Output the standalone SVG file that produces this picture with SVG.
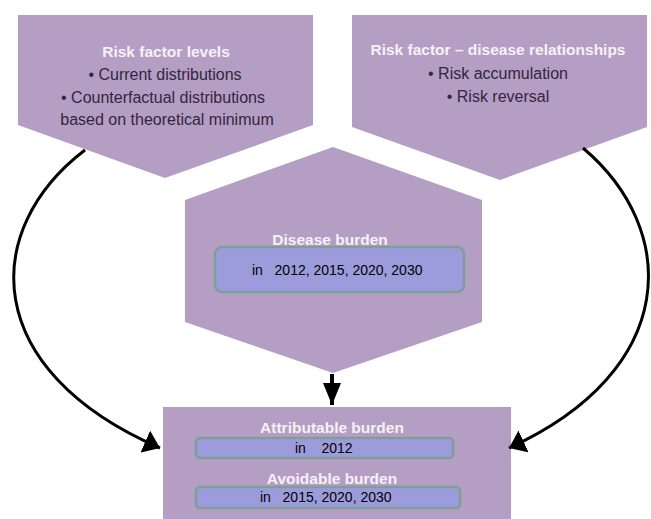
<svg xmlns="http://www.w3.org/2000/svg" width="651" height="519" viewBox="0 0 651 519">
<style>
.shape{fill:#b49ec3;}
.title{font-family:"Liberation Sans",Arial,sans-serif;font-size:15.5px;font-weight:bold;fill:#f6f1f8;text-anchor:middle;}
.bul{font-family:"Liberation Sans",Arial,sans-serif;font-size:16px;fill:#33263f;text-anchor:middle;}
.box{fill:#9c9cdc;stroke:#7f9e9a;stroke-width:2.5;}
.yr{font-family:"Liberation Sans",Arial,sans-serif;font-size:14px;fill:#000;white-space:pre;}
.conn{fill:none;stroke:#000;stroke-width:3;}
</style>
<defs>
<marker id="ah" markerUnits="userSpaceOnUse" markerWidth="24" markerHeight="18" refX="22" refY="9" orient="auto">
<path d="M0,0 L22,9 L0,18 Z" fill="#000"/>
</marker>
<marker id="ahd" markerUnits="userSpaceOnUse" markerWidth="24" markerHeight="24" refX="16" refY="12" orient="auto">
<path d="M0,0 L16,12 L0,24 Z" fill="#000"/>
</marker>
</defs>
<rect width="651" height="519" fill="#fff"/>
<g id="risk-levels">
<polygon class="shape" points="18,15 313,15 313,125 165,178 18,125"/>
<text class="title" x="166" y="57">Risk factor levels</text>
<text class="bul" x="165" y="80">• Current distributions</text>
<text class="bul" x="163" y="103">• Counterfactual distributions</text>
<text class="bul" x="167" y="125">based on theoretical minimum</text>
</g>
<g id="risk-relationships">
<polygon class="shape" points="352,15 647,15 647,127 500,180 352,127"/>
<text class="title" x="498" y="55">Risk factor – disease relationships</text>
<text class="bul" x="498" y="79">• Risk accumulation</text>
<text class="bul" x="498" y="102">• Risk reversal</text>
</g>
<g id="disease-burden">
<polygon class="shape" points="333,147 482,200 482,322 333,373 185,322 185,200"/>
<text class="title" x="330" y="245">Disease burden</text>
<rect class="box" x="215" y="247" width="249" height="45" rx="7"/>
<text class="yr" x="252" y="275">in   2012, 2015, 2020, 2030</text>
</g>
<g id="burden-outcomes">
<rect class="shape" x="163" y="407" width="348" height="115"/>
<text class="title" x="332" y="433">Attributable burden</text>
<rect class="box" x="196" y="438" width="257" height="20" rx="4"/>
<text class="yr" x="295" y="453">in    2012</text>
<text class="title" x="332" y="484">Avoidable burden</text>
<rect class="box" x="196" y="487" width="264" height="21" rx="4"/>
<text class="yr" x="260" y="502">in   2015, 2020, 2030</text>
</g>
<g id="connectors">
<path class="conn" d="M85,150 C-20,230 -20,370 160,448" marker-end="url(#ahd)"/>
<path class="conn" d="M583,148 C680,230 680,370 509,448" marker-end="url(#ahd)"/>
<line x1="332" y1="374" x2="332" y2="405" stroke="#000" stroke-width="4" marker-end="url(#ah)"/>
</g>
</svg>
